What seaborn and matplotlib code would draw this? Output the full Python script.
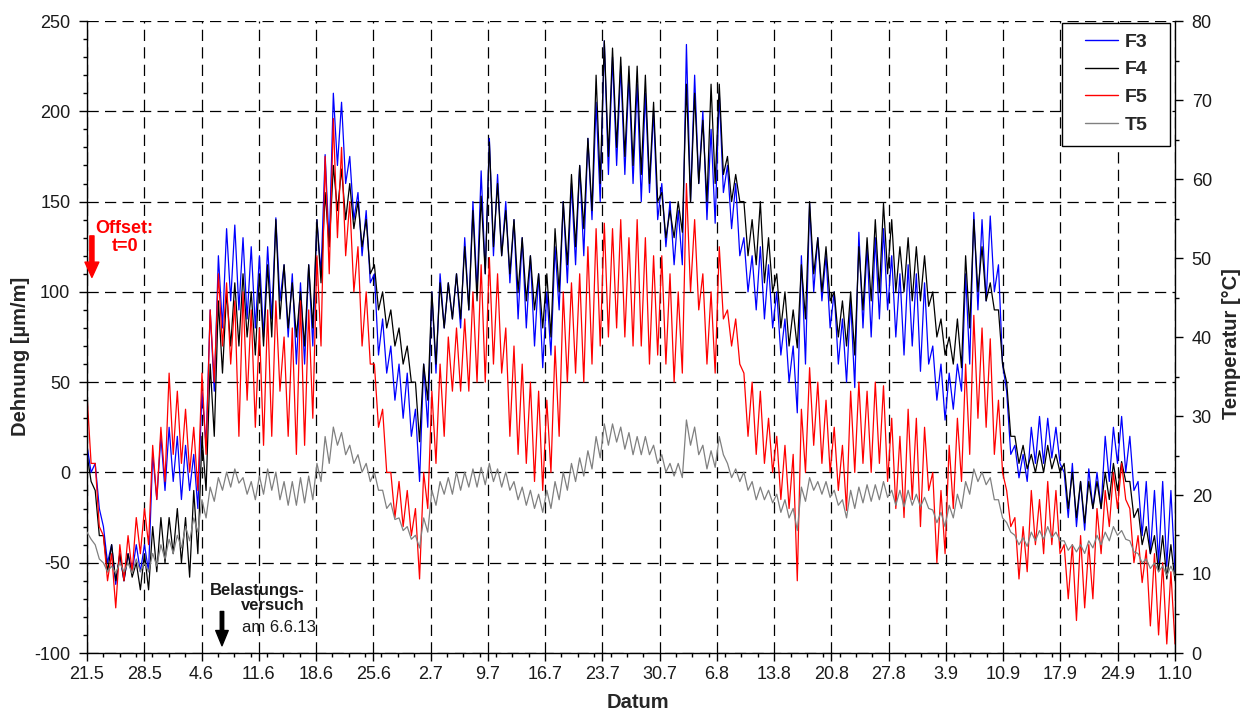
import numpy as np
import pandas as pd
import matplotlib
matplotlib.use("Agg")
import matplotlib.pyplot as plt
from matplotlib.lines import Line2D
from matplotlib.patches import Rectangle
from matplotlib.ticker import MultipleLocator
import seaborn as sns

# Weekly date ticks, 21.5.2013 - 1.10.2013
date_labels = ["21.5", "28.5", "4.6", "11.6", "18.6", "25.6", "2.7", "9.7", "16.7",
               "23.7", "30.7", "6.8", "13.8", "20.8", "27.8", "3.9", "10.9", "17.9",
               "24.9", "1.10"]

# Daily (max, min) strain in µm/m, one row per week
f3 = [
    (15, 0), (5, -20), (-30, -50), (-40, -62), (-45, -60), (-45, -55), (-40, -55),
    (-40, -55), (10, -15), (20, -10), (25, -5), (20, -15), (15, -10), (10, -20),
    (45, 15), (90, 45), (120, 80), (135, 95), (137, 90), (130, 85), (125, 80),
    (120, 75), (125, 85), (141, 95), (115, 75), (110, 60), (105, 60), (115, 70),
    (140, 110), (176, 125), (210, 170), (205, 160), (175, 140), (155, 120), (145, 105),
    (110, 65), (85, 55), (70, 40), (60, 30), (55, 20), (35, -5), (60, 25),
    (100, 55), (110, 80), (105, 85), (110, 80), (130, 90), (150, 100), (167, 110),
    (185, 120), (165, 120), (150, 105), (140, 85), (130, 80), (120, 70), (110, 58),
    (100, 65), (125, 90), (150, 105), (160, 115), (170, 120), (185, 140), (205, 150),
    (239, 165), (230, 170), (225, 165), (220, 160), (215, 150), (210, 155), (200, 140),
    (160, 125), (150, 115), (145, 115), (237, 150), (220, 160), (200, 140), (190, 138),
    (210, 155), (170, 135), (160, 120), (130, 100), (120, 90), (125, 85), (115, 80),
    (100, 65), (85, 50), (70, 33), (120, 60), (149, 100), (130, 95), (120, 80),
    (100, 60), (85, 50), (95, 47), (133, 80), (125, 75), (130, 85), (135, 90),
    (120, 75), (110, 65), (115, 70), (110, 56), (105, 60), (70, 40), (60, 29),
    (55, 35), (60, 45), (110, 60), (144, 90), (140, 95), (142, 100), (115, 60),
    (45, 10), (15, -3), (10, -5), (25, 5), (31, 5), (30, 8), (25, 5),
    (0, -25), (5, -30), (-5, -32), (2, -20), (0, -20), (20, -5), (25, 5),
    (31, 0), (20, -10), (-5, -35), (-5, -45), (-10, -50), (-5, -52), (-10, -55),
]

f4 = [
    (10, -5), (-10, -35), (-35, -55), (-40, -60), (-45, -60), (-45, -58), (-50, -65),
    (-45, -65), (-30, -55), (-25, -50), (-25, -45), (-20, -50), (-25, -58), (-10, -45),
    (20, -10), (60, 20), (95, 55), (100, 70), (105, 70), (110, 75), (100, 65),
    (110, 70), (115, 75), (140, 85), (115, 80), (105, 75), (100, 70), (115, 80),
    (140, 105), (155, 125), (170, 145), (168, 140), (160, 135), (150, 125), (140, 110),
    (115, 90), (100, 80), (90, 70), (80, 60), (70, 50), (50, 17), (60, 40),
    (100, 60), (105, 80), (105, 85), (110, 85), (125, 90), (145, 95), (153, 110),
    (183, 125), (160, 120), (145, 110), (140, 100), (130, 95), (120, 90), (110, 80),
    (110, 75), (135, 100), (150, 115), (165, 125), (170, 135), (185, 145), (220, 160),
    (239, 175), (235, 180), (230, 175), (225, 170), (225, 165), (220, 160), (205, 150),
    (155, 130), (145, 130), (150, 133), (215, 150), (210, 160), (195, 150), (215, 160),
    (215, 165), (175, 150), (165, 150), (150, 120), (140, 115), (150, 105), (130, 100),
    (110, 80), (100, 70), (90, 69), (115, 85), (150, 110), (130, 100), (125, 95),
    (100, 75), (95, 70), (100, 65), (125, 90), (130, 95), (140, 100), (149, 110),
    (140, 100), (125, 100), (130, 95), (125, 95), (120, 92), (100, 75), (85, 65),
    (75, 60), (85, 58), (120, 80), (140, 100), (125, 95), (105, 90), (90, 60),
    (50, 20), (20, 5), (15, 2), (10, 0), (12, 0), (15, 2), (10, 0),
    (5, -20), (0, -25), (-5, -28), (-5, -20), (-5, -20), (0, -15), (5, -10),
    (6, -5), (-5, -25), (-20, -40), (-30, -45), (-35, -55), (-35, -59), (-40, -60),
]

f5 = [
    (43, 5), (5, -30), (-35, -60), (-45, -75), (-40, -60), (-35, -55), (-25, -45),
    (-20, -40), (15, -15), (25, -5), (55, 10), (45, 5), (35, 0), (25, -10),
    (55, 10), (90, 50), (110, 70), (105, 60), (95, 20), (100, 40), (90, 25),
    (80, 15), (90, 20), (95, 45), (75, 20), (80, 10), (95, 15), (90, 30),
    (120, 70), (175, 110), (196, 130), (180, 120), (150, 100), (125, 70), (100, 60),
    (60, 25), (35, 0), (0, -25), (-5, -30), (-10, -35), (-20, -59), (0, -20),
    (45, 5), (60, 20), (75, 45), (80, 45), (85, 45), (100, 50), (115, 50),
    (119, 60), (110, 55), (80, 20), (70, 10), (60, 5), (50, -5), (45, -10),
    (40, 0), (70, 20), (100, 50), (105, 55), (110, 50), (125, 60), (135, 70),
    (138, 75), (135, 80), (140, 75), (130, 70), (140, 70), (130, 60), (120, 65),
    (120, 60), (110, 50), (100, 55), (160, 100), (140, 90), (110, 60), (100, 55),
    (125, 85), (90, 70), (85, 60), (55, 20), (50, 10), (45, 5), (30, 0),
    (20, -15), (15, -20), (10, -60), (35, 0), (58, 15), (50, 5), (40, 0),
    (25, -10), (15, -21), (45, 0), (50, 5), (45, 0), (50, 5), (48, -5),
    (30, -20), (20, -25), (35, -15), (30, -30), (25, -10), (0, -50), (-10, -45),
    (15, -20), (30, -5), (60, 10), (87, 30), (80, 25), (74, 10), (40, 0),
    (-10, -30), (-25, -59), (-30, -55), (-10, -40), (-15, -45), (-5, -40), (-10, -45),
    (-40, -70), (-40, -82), (-35, -75), (-40, -70), (-20, -45), (-10, -30), (0, -20),
    (5, -15), (-20, -50), (-35, -61), (-43, -85), (-45, -90), (-50, -95), (-55, -95),
]

# Daily (max, min) temperature T5 in °C
t5 = [
    (15.3, 14.4), (13.7, 11.9), (11.4, 10.3), (11.0, 10.1), (11.4, 10.3), (11.4, 10.1), (11.9, 10.3),
    (11.4, 10.3), (12.6, 11.0), (13.7, 11.9), (14.4, 12.6), (14.9, 13.3), (16.0, 14.2), (17.1, 15.3),
    (19.4, 17.1), (21.0, 19.2), (22.2, 20.6), (22.9, 21.0), (23.3, 21.5), (22.2, 20.1), (21.7, 19.4),
    (22.4, 20.1), (23.3, 20.6), (22.9, 19.4), (21.7, 18.7), (21.7, 18.7), (22.2, 19.0), (22.4, 19.4),
    (24.0, 21.7), (27.4, 24.0), (28.6, 26.3), (27.9, 25.1), (26.3, 24.0), (25.1, 22.9), (24.0, 21.7),
    (22.9, 20.6), (20.6, 18.3), (19.0, 16.9), (17.1, 15.5), (16.0, 14.4), (14.9, 13.3), (17.1, 15.3),
    (20.6, 18.7), (21.7, 20.1), (22.2, 20.1), (22.9, 20.6), (22.9, 21.0), (23.3, 21.0), (23.5, 21.3),
    (24.0, 21.7), (23.3, 21.0), (22.9, 20.6), (21.7, 19.4), (21.0, 18.7), (20.6, 18.3), (20.1, 17.8),
    (20.6, 18.3), (21.7, 19.4), (22.9, 20.6), (24.0, 21.7), (24.7, 22.4), (25.6, 23.3), (27.4, 24.7),
    (29.0, 26.3), (29.0, 26.7), (28.6, 25.8), (27.9, 25.1), (27.4, 25.1), (27.4, 25.1), (26.3, 24.0),
    (25.1, 22.9), (24.0, 22.4), (24.0, 22.2), (29.5, 26.3), (28.6, 25.1), (26.3, 23.3), (25.6, 23.5),
    (27.4, 25.1), (24.0, 22.2), (23.3, 21.7), (22.9, 20.6), (21.7, 19.4), (21.0, 19.4), (20.6, 19.0),
    (20.1, 17.8), (19.4, 17.1), (18.3, 15.5), (21.0, 19.2), (22.2, 20.6), (21.7, 20.1), (21.7, 19.7),
    (20.6, 18.7), (19.4, 17.1), (20.6, 18.3), (21.0, 19.0), (21.3, 19.2), (21.3, 19.4), (21.7, 19.7),
    (20.6, 18.7), (20.6, 18.5), (20.6, 18.7), (20.1, 18.5), (19.7, 18.3), (18.1, 16.5), (17.8, 16.0),
    (18.7, 17.1), (20.1, 18.3), (21.7, 20.1), (23.3, 21.7), (22.9, 21.3), (22.2, 19.4), (19.4, 17.1),
    (16.5, 15.3), (14.9, 13.7), (14.6, 13.5), (15.3, 14.2), (15.5, 14.4), (16.0, 14.6), (15.3, 14.2),
    (14.2, 13.0), (13.7, 12.8), (13.7, 12.6), (14.2, 13.3), (14.9, 13.7), (15.3, 14.2), (16.0, 14.9),
    (15.5, 14.4), (14.2, 12.8), (12.6, 11.4), (11.9, 10.7), (11.4, 10.3), (11.0, 9.8), (11.0, 9.8),
]

sns.set_theme(style="white")
plt.rcParams["font.family"] = ["Liberation Sans", "DejaVu Sans"]
plt.rcParams["axes.unicode_minus"] = False


def flatten(pairs):
    return [v for p in pairs for v in p]


n_days = len(f3)
t = np.linspace(0, n_days, 2 * n_days)

strain = pd.concat(
    [pd.DataFrame({"t": t, "value": flatten(s), "series": name})
     for name, s in [("F3", f3), ("F4", f4), ("F5", f5)]],
    ignore_index=True,
)
temp = pd.DataFrame({"t": t, "value": flatten(t5)})

colors = {"F3": "#0000ff", "F4": "#000000", "F5": "#ff0000", "T5": "#808080"}

fig = plt.figure(figsize=(12.5, 7.11), dpi=100)
ax = fig.add_axes([87 / 1250, 1 - 653 / 711, (1175 - 87) / 1250, (653 - 21) / 711])
ax2 = ax.twinx()

sns.lineplot(data=strain, x="t", y="value", hue="series", hue_order=["F3", "F4", "F5"],
             palette=colors, estimator=None, sort=False, lw=0.9, legend=False, ax=ax)
sns.lineplot(data=temp, x="t", y="value", color=colors["T5"], estimator=None,
             sort=False, lw=0.9, ax=ax2)

# Axes ranges and ticks
ax.set_xlim(0, n_days)
ax.set_ylim(-100, 250)
ax2.set_ylim(0, 80)
ax.set_xticks(np.arange(0, n_days + 1, 7))
ax.set_xticklabels(date_labels)
ax.xaxis.set_minor_locator(MultipleLocator(2))
ax.yaxis.set_major_locator(MultipleLocator(50))
ax.yaxis.set_minor_locator(MultipleLocator(10))
ax2.yaxis.set_major_locator(MultipleLocator(10))
ax2.yaxis.set_minor_locator(MultipleLocator(5))

ax.grid(True, which="major", axis="both", color="black", ls=(0, (9, 5)), lw=0.9)
ax.set_axisbelow(True)

tick_color = "#1a1a1a"
ax.tick_params(which="major", direction="out", length=6, width=1, color="black",
               labelsize=13, labelcolor=tick_color, bottom=True, left=True, top=False, right=False)
ax.tick_params(axis="y", which="major", pad=6)
ax.tick_params(which="minor", direction="out", length=3, width=1, color="black",
               bottom=True, left=True, top=False, right=False)
ax2.tick_params(which="major", direction="out", length=6, width=1, color="black",
                labelsize=13, labelcolor=tick_color, right=True, left=False, pad=6)
ax2.tick_params(which="minor", direction="out", length=3, width=1, color="black",
                right=True, left=False)

for name, sp in ax.spines.items():
    sp.set_visible(name in ("left", "bottom"))
    sp.set_color("black")
    sp.set_linewidth(1)
for name, sp in ax2.spines.items():
    sp.set_visible(name == "right")
    sp.set_color("black")
    sp.set_linewidth(1)

ax.set_xlabel("Datum", fontsize=14.5, fontweight="bold")
ax.set_ylabel("Dehnung [µm/m]", fontsize=14.5, fontweight="bold")
ax2.set_ylabel("Temperatur [°C]", fontsize=14.5, fontweight="bold")
ax.xaxis.set_label_coords(0.506, -0.064)
ax.yaxis.set_label_coords(-0.052, 0.47)
ax2.yaxis.set_label_coords(1.0432, 0.49)

# Annotations
ax.text(4.6, 130, "Offset:\nt=0", color="red", fontweight="bold", fontsize=13,
        ha="center", va="center", linespacing=1.05)
ax.annotate("", xy=(0.6, 108), xytext=(0.6, 131),
            arrowprops=dict(facecolor="red", edgecolor="red", width=3, headwidth=10,
                            headlength=11, shrink=0))
ax.text(26.6, -69.5, "Belastungs-\nversuch", fontweight="bold", fontsize=12,
        ha="right", va="center", multialignment="right", linespacing=1.0, color=tick_color)
ax.text(18.9, -86, "am 6.6.13", fontsize=12, ha="left", va="center", color=tick_color)
ax.annotate("", xy=(16.5, -96), xytext=(16.5, -77),
            arrowprops=dict(facecolor="black", edgecolor="black", width=2.5, headwidth=9,
                            headlength=11, shrink=0))

# Legend with its own frame box
ax2.add_patch(Rectangle((0.896, 0.8022), 0.0994, 0.1946, transform=ax2.transAxes,
                        facecolor="white", edgecolor="black", lw=1, zorder=4.5))
handles = [Line2D([], [], color=colors[k], lw=1) for k in ["F3", "F4", "F5", "T5"]]
leg = ax2.legend(handles, ["F3", "F4", "F5", "T5"], loc="upper left",
                 bbox_to_anchor=(0.9173, 0.981), frameon=False,
                 prop={"weight": "bold", "size": 14}, handlelength=1.7,
                 handletextpad=0.35, labelspacing=0.52, borderaxespad=0, borderpad=0)
leg.set_zorder(5)

fig.savefig("out.png", dpi=100, facecolor="white")
